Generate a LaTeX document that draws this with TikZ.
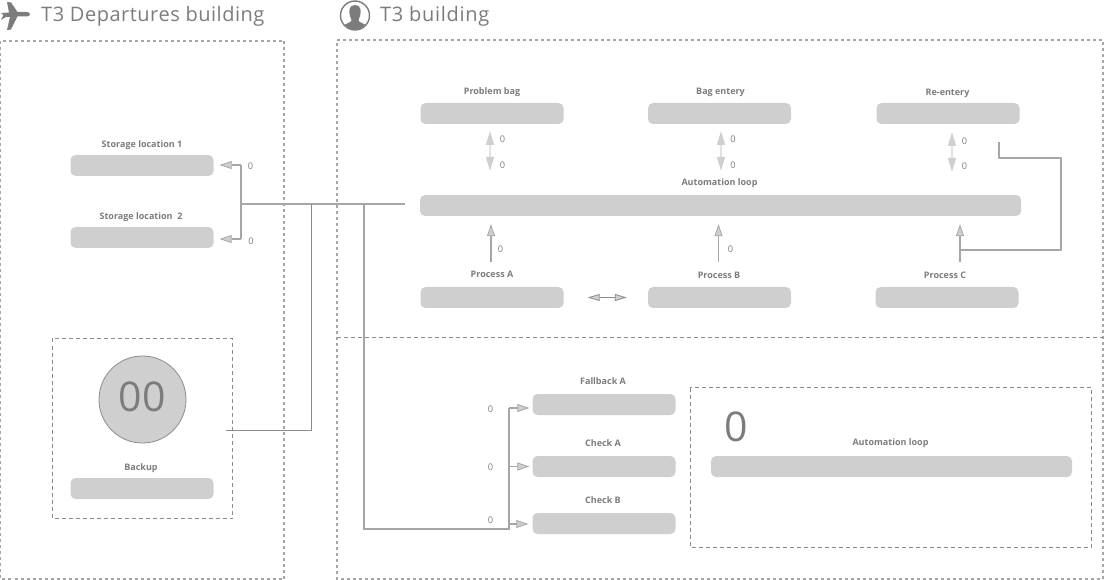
\documentclass[tikz,border=0pt]{standalone}
\usepackage{fontspec}
\setmainfont{Open Sans}
\usetikzlibrary{arrows.meta,calc}
\definecolor{barc}{HTML}{CFCFCF}
\definecolor{inkc}{HTML}{7C7C7C}
\definecolor{linec}{HTML}{A6A6A6}
\definecolor{darkl}{HTML}{8C8C8C}
\definecolor{palec}{HTML}{E2E2E2}
\tikzset{
  bar/.style={fill=barc,draw=none,rounded corners=5pt,inner sep=0pt,minimum height=21pt,minimum width=143pt},
  lab/.style={text=inkc,font=\fontsize{9}{10}\selectfont\bfseries,inner sep=0pt},
  num/.style={text=inkc,font=\fontsize{9.2}{10}\selectfont,inner sep=0pt},
  ttl/.style={text=inkc,font=\fontsize{20}{24}\selectfont,inner sep=0pt,anchor=west},
  big/.style={text=inkc,font=\fontsize{41}{46}\selectfont,inner sep=0pt},
  zone/.style={draw=linec,line width=1.4pt,dash pattern=on 3pt off 3pt},
  thinbox/.style={draw=darkl,line width=.8pt,dash pattern=on 4pt off 3pt},
  wire/.style={draw=linec,line width=1.1pt},
  thinwire/.style={draw=darkl,line width=.9pt},
  tri/.style={wire,-{Triangle[open,fill=barc,length=12pt,width=8pt,line width=.8pt]}},
  dbl/.style={draw=darkl,line width=.8pt,{Triangle[open,fill=barc,length=12pt,width=7pt]}-{Triangle[open,fill=barc,length=12pt,width=7pt]}},
  lt/.style={draw=palec,line width=1.4pt,{Triangle[fill=barc,color=barc,length=14pt,width=8pt]}-{Triangle[fill=barc,color=barc,length=14pt,width=8pt]}},
}
\begin{document}
\begin{tikzpicture}[x=1pt,y=-1pt]
\useasboundingbox (0,0) rectangle (1104,580);
% zones
\draw[zone] (0.5,41) rectangle (284,579);
\draw[zone] (337,40) -- (1103,40) -- (1103,579) -- (337,579) -- cycle;
\draw[thinbox] (337,337) -- (1103,337);
\draw[thinbox] (52.5,338.5) rectangle (232.5,518.5);
\draw[thinbox] (690,387.5) rectangle (1091.5,547);
% titles
\node[ttl] (t1) at (41,16) {\addfontfeature{LetterSpace=2.6}T3 Departures building};
\node[ttl] (t2) at (380,16) {\addfontfeature{LetterSpace=3.4}T3 building};
% plane icon
\fill[inkc] (1,13) -- (9,12.5) -- (7,2) -- (11,2.5) -- (17.5,12) -- (27,12) .. controls (31,12.5) and (31,16) .. (27,16.5) -- (17.5,16.5) -- (11,29.5) -- (7,30) -- (10,17) -- (6,17) -- (1,20) -- (3.5,15) -- cycle;
% person icon
\draw[inkc,line width=1.4pt] (355,15.5) circle (14.5);
\begin{scope}
\clip (355,15.5) circle (14);
\fill[inkc] (355,5) .. controls (349,5) and (348.5,11) .. (350,16) .. controls (350.5,18) and (351.5,19) .. (351.5,20.5) .. controls (350,23) and (346,23.5) .. (344,25) -- (344,31) -- (366,31) -- (366,25) .. controls (364,23.5) and (360,23) .. (358.5,20.5) .. controls (358.5,19) and (359.5,18) .. (360,16) .. controls (361.5,11) and (361,5) .. (355,5) -- cycle;
\end{scope}
% bars
\node[bar] (st1) at (142,165.5) {};
\node[bar] (st2) at (142,237.5) {};
\node[bar] (pb) at (492,113.5) {};
\node[bar] (be) at (719.5,113.5) {};
\node[bar] (re) at (948,113.5) {};
\node[bar,minimum width=601pt] (loop) at (720.5,205.5) {};
\node[bar] (pa) at (492,297.5) {};
\node[bar] (pbb) at (719.5,297.5) {};
\node[bar] (pc) at (947,297.5) {};
\node[bar] (bk) at (142,488.5) {};
\node[bar] (fa) at (604,404.5) {};
\node[bar] (ca) at (604,466.5) {};
\node[bar] (cb) at (604,523.5) {};
\node[bar,minimum width=361pt] (il) at (891.5,466.5) {};
\node[circle,fill=barc,draw=darkl,line width=.8pt,minimum size=87pt,inner sep=0pt] (circ) at (142.5,399.5) {};
% labels
\node[lab] (l1) at (142,145.5) {Storage location 1};
\node[lab] (l2) at (141,217.5) {Storage location\ \ 2};
\node[lab] (l3) at (492,92) {Problem bag};
\node[lab] (l4) at (720.5,92) {Bag entery};
\node[lab] (l5) at (947.5,93) {Re-entery};
\node[lab] (l6) at (719.5,183) {Automation loop};
\node[lab] (l7) at (492,274) {Process A};
\node[lab] (l8) at (719,275) {Process B};
\node[lab] (l9) at (945,275) {Process C};
\node[lab] (l10) at (141,468) {Backup};
\node[lab] (l11) at (603,381) {Fallback A};
\node[lab] (l12) at (603,443) {Check A};
\node[lab] (l13) at (603,500) {Check B};
\node[lab] (l14) at (890.5,443) {Automation loop};
\node[big] (n00) at (142,397) {00};
\node[big] (n0) at (736.5,427) {0};
% numbers
\foreach \i/\x/\y in {a/250.5/166,b/251/241,c/502.5/139.5,d/502.5/165,e/733/139.5,f/733/165,g/964.5/141,h/964.5/166,i/500.5/249,j/730.5/249,k/490.5/409,l/490.5/467,m/490.5/520}
  \node[num] (z\i) at (\x,\y) {0};
% junctions
\coordinate (j0) at (241,204);
\coordinate (jend) at (405,204);
\coordinate (j1) at (241,165);
\coordinate (j2) at (241,239);
\coordinate (j3) at (311,204);
\coordinate (j3b) at (311,430);
\coordinate (bkout) at (226,430);
\coordinate (j4) at (364,204);
\coordinate (j4b) at (364,529);
\coordinate (j5) at (509,529);
\coordinate (j6) at (509,408);
\coordinate (j7) at (509,466.5);
\coordinate (j8) at (509,524);
\coordinate (upa) at (491,262);
\coordinate (upb) at (718.5,262);
\coordinate (upc) at (960,262);
\coordinate (rs) at (999,142);
\coordinate (r1) at (999,158);
\coordinate (r2) at (1061,158);
\coordinate (r3) at (1061,250);
\coordinate (r4) at (960,250);
\coordinate (da) at (490,124);
\coordinate (db) at (721,124);
\coordinate (dc) at (952,124);
% wires
\draw[wire] (j0) -- (jend);
\draw[wire] (j1) -- (j2);
\draw[tri,shorten >=6pt] (j1) -- (j1 -| st1.east);
\draw[tri,shorten >=6pt] (j2) -- (j2 -| st2.east);
\draw[thinwire] (bkout) -- (j3b) -- (j3);
\draw[wire] (j4) -- (j4b) -- (j5) -- (j6);
\draw[tri,shorten >=3pt] (j6) -- (j6 -| fa.west);
\draw[tri,shorten >=3pt] (j7) -- (j7 -| ca.west);
\draw[tri,shorten >=4pt] (j8) -- (j8 -| cb.west);
\draw[tri,shorten >=8pt] (upa) -- (upa |- loop.south);
\draw[tri,shorten >=8pt] (upb) -- (upb |- loop.south);
\draw[tri,shorten >=8pt] (upc) -- (upc |- loop.south);
\draw[wire,line join=round] (rs) -- (r1) -- (r2) -- (r3) -- (r4);
\draw[lt,shorten <=7pt,shorten >=24pt] (da) -- (da |- loop.north);
\draw[lt,shorten <=7pt,shorten >=24pt] (db) -- (db |- loop.north);
\draw[lt,shorten <=8pt,shorten >=23pt] (dc) -- (dc |- loop.north);
\draw[dbl,shorten <=24pt,shorten >=21pt] (pa.east) -- (pbb.west);
\end{tikzpicture}
\end{document}
